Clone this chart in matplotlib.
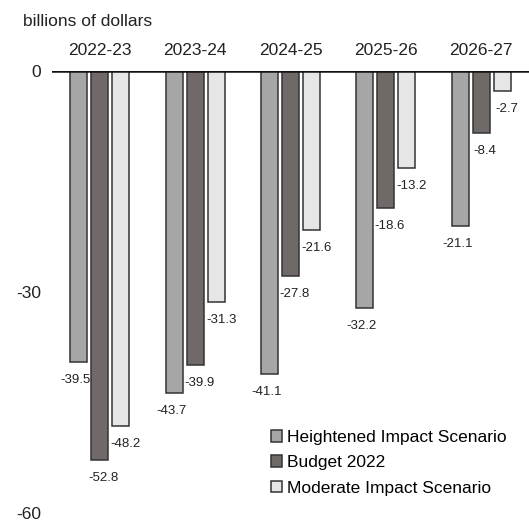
import numpy as np
import matplotlib
matplotlib.use("Agg")
import matplotlib.pyplot as plt

plt.rcParams['font.family'] = ['Liberation Sans', 'DejaVu Sans']

years = ["2022-23", "2023-24", "2024-25", "2025-26", "2026-27"]
heightened = [-39.5, -43.7, -41.1, -32.2, -21.1]
budget = [-52.8, -39.9, -27.8, -18.6, -8.4]
moderate = [-48.2, -31.3, -21.6, -13.2, -2.7]

series = [
    ("Heightened Impact Scenario", heightened, "#a6a6a6", -0.22, -3),
    ("Budget 2022", budget, "#6f6a68", 0.0, 4),
    ("Moderate Impact Scenario", moderate, "#e6e6e6", 0.22, 5),
]

fig = plt.figure(figsize=(5.29, 5.21), dpi=100)
ax = fig.add_axes([52 / 529, 1 - 513 / 521, 477 / 529, (513 - 71) / 521])

x = np.arange(len(years))
handles = []
for name, vals, color, off, dx in series:
    b = ax.bar(x + off, vals, width=0.18, color=color, edgecolor="#333333",
               linewidth=1.1, label=name)
    handles.append(b)
    for xi, v in zip(x + off, vals):
        ax.annotate(f"{v:.1f}", (xi, v), xytext=(dx * 0.72, -13),
                    textcoords="offset points", ha="center", va="center",
                    fontsize=9.5, color="#222222")

ax.axhline(0, color="#111111", linewidth=1.8, zorder=5)

for xi, yr in zip(x, years):
    ax.annotate(yr, (xi, 0), xytext=(0, 15), textcoords="offset points",
                ha="center", va="center", fontsize=12.5, color="#222222")

ax.set_xlim(-0.5, 4.5)
ax.set_ylim(-60, 0)
ax.set_xticks([])
ax.set_yticks([0, -30, -60])
ax.set_yticklabels(["0", "-30", "-60"], fontsize=12.5, color="#222222")
ax.tick_params(axis="y", length=0, pad=8)
for s in ax.spines.values():
    s.set_visible(False)

fig.text(23 / 529, 1 - 22 / 521, "billions of dollars", fontsize=12.5,
         color="#222222", ha="left", va="center")

fig.legend(handles=handles, loc="upper left",
           bbox_to_anchor=(264 / 529, 1 - 423 / 521), frameon=False,
           fontsize=12.5, handlelength=0.65, handleheight=0.65,
           handletextpad=0.25, labelspacing=0.6, borderaxespad=0)

fig.savefig("out.png", dpi=100)
